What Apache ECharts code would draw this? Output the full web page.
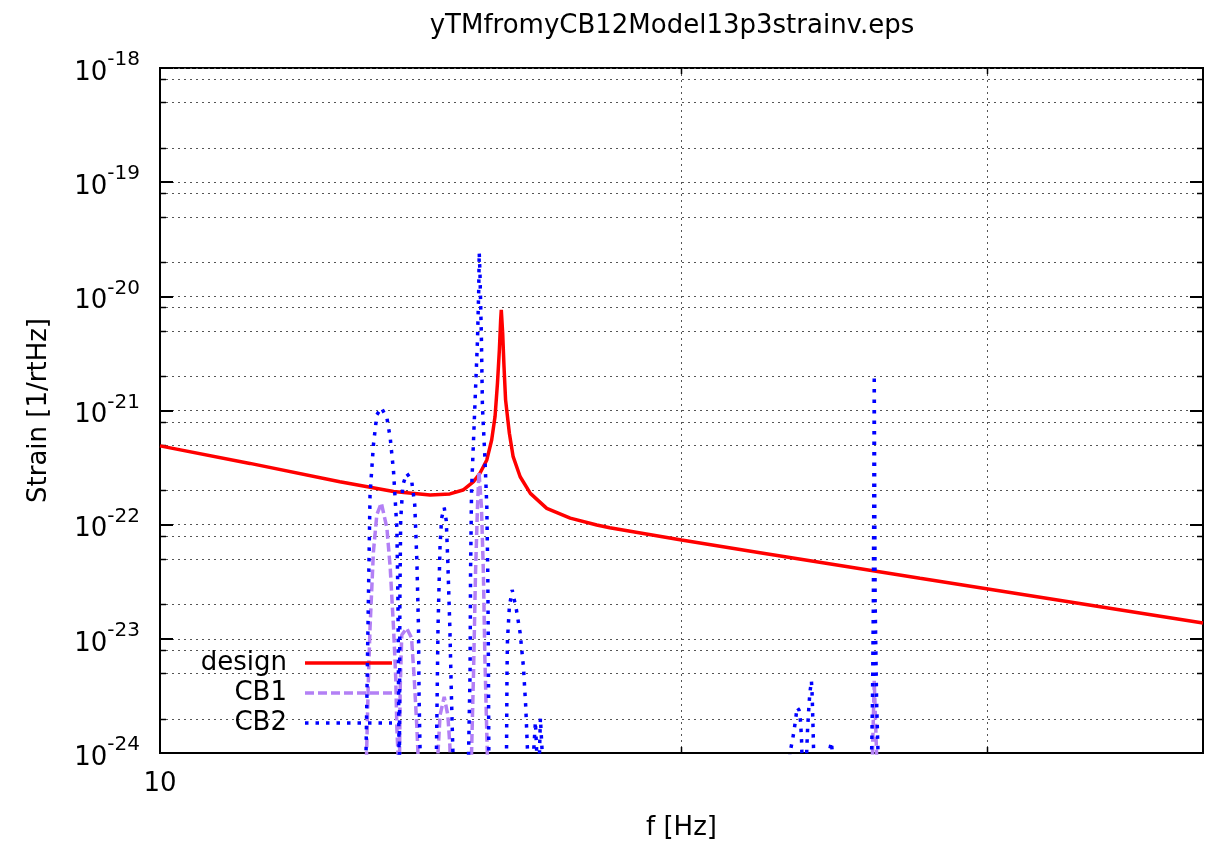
<!DOCTYPE html>
<html>
<head>
<meta charset="utf-8">
<script src="https://cdn.jsdelivr.net/npm/echarts@6/dist/echarts.min.js"></script>
<style>html,body{margin:0;padding:0;background:#fff}#c{width:1220px;height:853px}</style>
</head>
<body>
<div id="c"></div>
<script>
// ---- data ----
const designF = [10.00, 11.27, 12.70, 13.64, 14.32, 14.70, 14.96, 15.17, 15.30, 15.44, 15.54, 15.61, 15.66, 15.70, 15.727, 15.740, 15.769, 15.797, 15.83, 15.91, 15.99, 16.14, 16.36, 16.72, 17.25, 17.87, 18.18, 20.0, 22.20, 27.46, 40.0];
const designV = [4.90e-22, 3.44e-22, 2.38e-22, 1.95e-22, 1.82e-22, 1.86e-22, 2.01e-22, 2.38e-22, 2.82e-22, 3.69e-22, 5.52e-22, 8.84e-22, 1.73e-21, 3.40e-21, 6.22e-21, 7.61e-21, 4.76e-21, 2.42e-21, 1.24e-21, 6.32e-22, 3.94e-22, 2.63e-22, 1.88e-22, 1.39e-22, 1.14e-22, 9.94e-23, 9.41e-23, 7.34e-23, 5.68e-23, 3.39e-23, 1.376e-23];

const cb1F = [13.10, 13.16, 13.19, 13.22, 13.28, 13.34, 13.42, 13.52, 13.58, 13.64, 13.68, 13.70, 13.72, 13.735, 13.75, 13.76, 13.79, 13.88, 13.97, 14.02, 14.07, 14.09, 14.12,
  14.44, 14.47, 14.51, 14.59, 14.66, 14.70, 14.72, 14.75,
  15.10, 15.13, 15.17, 15.21, 15.25, 15.28, 15.33, 15.37, 15.40, 15.45, 15.48,
  25.75, 25.78, 25.84, 25.92, 25.96, 40.0];
const cb1V = [1e-26, 1e-24, 4.18e-24, 1.24e-23, 5.80e-23, 1.22e-22, 1.55e-22, 9.36e-23, 4.17e-23, 1.24e-23, 4.53e-24, 1.65e-24, 1e-24, 4e-25, 1e-24, 3.56e-24, 1.08e-23, 1.24e-23, 1.02e-23, 4.53e-24, 1.65e-24, 1e-24, 1e-26,
  1e-26, 1e-24, 2.15e-24, 3.1e-24, 2.15e-24, 1.17e-24, 5e-25, 1e-26,
  1e-26, 1e-24, 5.01e-24, 3.77e-23, 1.44e-22, 2.92e-22, 1.44e-22, 3.77e-23, 6.97e-24, 1e-24, 1e-26,
  1e-26, 1e-24, 4.29e-24, 1e-24, 1e-26, 1e-26];

const cb2F = [13.10, 13.15, 13.22, 13.28, 13.34, 13.42, 13.52, 13.58, 13.64, 13.70, 13.72, 13.73, 13.74, 13.745,
  13.755, 13.77, 13.81, 13.88, 13.97, 14.03, 14.07, 14.10, 14.11, 14.13, 14.15,
  14.42, 14.44, 14.47, 14.51, 14.54, 14.59, 14.63, 14.66, 14.70, 14.73, 14.76, 14.78,
  15.05, 15.07, 15.10, 15.11, 15.13, 15.17, 15.21, 15.25, 15.275, 15.285, 15.30, 15.33, 15.35, 15.40, 15.44, 15.46, 15.47, 15.48, 15.50,
  15.83, 15.85, 15.86, 15.87, 15.91, 15.97, 16.06, 16.14, 16.21, 16.26, 16.30, 16.33,
  16.41, 16.43, 16.47, 16.50, 16.53, 16.56, 16.58, 16.62, 16.65,
  23.05, 23.10, 23.18, 23.23, 23.28, 23.32, 23.38, 23.43, 23.46, 23.47, 23.53,
  23.60, 23.62, 23.65, 23.69, 23.72, 23.77, 23.79, 23.80, 23.82, 23.84, 23.88,
  24.30, 24.33, 24.41, 24.44, 24.48,
  25.70, 25.75, 25.78, 25.81, 25.84, 25.87, 25.92, 25.97, 26.02, 40.0];
const cb2V = [1e-26, 1e-24, 1.82e-22, 4.99e-22, 9.15e-22, 1.06e-21, 8.61e-22, 5.75e-22, 2.91e-22, 9.36e-23, 2.19e-23, 4.36e-24, 1e-24, 3e-25,
  2.19e-23, 1.10e-22, 2.23e-22, 2.82e-22, 2.47e-22, 1.49e-22, 4.71e-23, 1.24e-23, 3.22e-24, 1e-24, 1e-26,
  1e-26, 1e-24, 1.24e-23, 6.64e-23, 1.14e-22, 1.41e-22, 1.08e-22, 4.71e-23, 1.24e-23, 3.22e-24, 1e-24, 1e-26,
  1e-26, 1e-24, 5.01e-24, 3.77e-23, 2.01e-22, 5.52e-22, 1.52e-21, 4.16e-21, 1.14e-20, 2.42e-20, 1.61e-20, 4.16e-21, 1.08e-21, 3.94e-22, 1.44e-22, 3.77e-23, 9.76e-24, 1.30e-24, 1e-26,
  1e-26, 1e-24, 5.01e-24, 9.76e-24, 1.91e-23, 2.68e-23, 1.79e-23, 1.12e-23, 5.69e-24, 2.54e-24, 1e-24, 1e-26,
  1e-26, 1e-24, 1.88e-24, 1e-24, 1e-26, 1e-24, 2.02e-24, 1e-24, 1e-26,
  1e-26, 1e-24, 1.30e-24, 1.59e-24, 2.01e-24, 2.51e-24, 2.38e-24, 1.88e-24, 1.30e-24, 1e-24, 1e-26,
  1e-26, 1e-24, 1.65e-24, 2.54e-24, 3.35e-24, 4.29e-24, 3.35e-24, 2.74e-24, 1.70e-24, 1e-24, 1e-26,
  1e-26, 1e-24, 1.25e-24, 1e-24, 1e-26,
  1e-26, 1e-24, 2.91e-24, 2.19e-23, 2.05e-21, 2.19e-23, 2.91e-24, 1e-24, 1e-26, 1e-26];

// axis ranges / ticks / grid values
const xMin = 10, xMax = 40, yMin = 1e-24, yMax = 1e-18;
const yTickValues = [1e-24, 1e-23, 1e-22, 1e-21, 1e-20, 1e-19, 1e-18];
const xGridValues = [20, 30];
const yMinorGrid = [2e-24, 5e-24, 8e-24, 2e-23, 5e-23, 8e-23, 2e-22, 5e-22, 8e-22, 2e-21, 5e-21, 8e-21, 2e-20, 5e-20, 8e-20, 2e-19, 5e-19, 8e-19];
const seriesNames = ['design', 'CB1', 'CB2'];
const titleText = 'yTMfromyCB12Model13p3strainv.eps';

const zip = (a, b) => a.map((v, i) => [v, b[i]]);
const FONT = 'DejaVu Sans, Liberation Sans, sans-serif';
const gridStyle = { color: '#555', width: 1, type: [2, 4] };
const dashStyle = { stroke: '#555', lineWidth: 1, lineDash: [2, 4] };
const tickStyle = { stroke: '#000', lineWidth: 1.5 };

function gridH(params, api) {
  const cs = params.coordSys;
  const y = Math.round(api.coord([xMin, api.value(0)])[1]) + 0.5;
  return { type: 'group', silent: true, children: [
    { type: 'line', shape: { x1: cs.x, y1: y, x2: cs.x + cs.width, y2: y }, style: dashStyle },
    { type: 'line', shape: { x1: cs.x, y1: y, x2: cs.x + 6, y2: y }, style: tickStyle },
    { type: 'line', shape: { x1: cs.x + cs.width - 6, y1: y, x2: cs.x + cs.width, y2: y }, style: tickStyle }
  ] };
}
function gridV(params, api) {
  const cs = params.coordSys;
  const x = Math.round(api.coord([api.value(0), yMin])[0]) + 0.5;
  return { type: 'group', silent: true, children: [
    { type: 'line', shape: { x1: x, y1: cs.y, x2: x, y2: cs.y + cs.height }, style: dashStyle },
    { type: 'line', shape: { x1: x, y1: cs.y + cs.height - 6, x2: x, y2: cs.y + cs.height }, style: tickStyle },
    { type: 'line', shape: { x1: x, y1: cs.y, x2: x, y2: cs.y + 6 }, style: tickStyle }
  ] };
}

const chart = echarts.init(document.getElementById('c'));
chart.setOption({
  animation: false,
  backgroundColor: '#fff',
  title: {
    text: titleText, left: 667, top: 8, textAlign: 'center',
    textStyle: { fontFamily: FONT, fontSize: 26, fontWeight: 'normal', color: '#000' }
  },
  grid: { left: 160, right: 17, top: 68, bottom: 100, containLabel: false, outerBoundsMode: 'none',
    show: true, borderColor: '#000', borderWidth: 2, backgroundColor: 'transparent' },
  legend: {
    orient: 'vertical', left: 167, top: 650, align: 'right', padding: 0,
    itemWidth: 87, itemHeight: 14, itemGap: 4,
    itemStyle: { opacity: 0 },
    lineStyle: { width: 3.5 },
    textStyle: { fontFamily: FONT, fontSize: 26, color: '#000', width: 120, lineHeight: 26, padding: [0, 13, 0, 0] },
    data: seriesNames
  },
  xAxis: {
    type: 'log', logBase: 10, min: xMin, max: xMax,
    name: 'f [Hz]', nameLocation: 'middle', nameGap: 62, nameMoveOverlap: false,
    nameTextStyle: { fontFamily: FONT, fontSize: 26, color: '#000' },
    axisLine: { show: true, lineStyle: { color: '#000', width: 2 } },
    axisTick: { show: false },
    splitLine: { show: false },
    axisLabel: {
      margin: 18, fontFamily: FONT, fontSize: 26, color: '#000', showMinLabel: true, hideOverlap: false,
      formatter: v => (Math.abs(v - 10) < 1e-6 ? '10' : '')
    }
  },
  yAxis: [{
    type: 'log', logBase: 10, min: yMin, max: yMax,
    name: 'Strain [1/rtHz]', nameLocation: 'middle', nameGap: 108, nameMoveOverlap: false,
    nameTextStyle: { fontFamily: FONT, fontSize: 26, color: '#000' },
    axisLine: { show: true, lineStyle: { color: '#000', width: 2 } },
    axisTick: { show: true, inside: true, length: 13, lineStyle: { color: '#000', width: 2 } },
    splitLine: { show: true, lineStyle: gridStyle },
    axisLabel: {
      margin: 20, showMinLabel: true, showMaxLabel: true, hideOverlap: false,
      customValues: yTickValues,
      formatter: v => {
        const e = Math.round(Math.log10(v));
        if (Math.abs(v / Math.pow(10, e) - 1) > 1e-6) return '';
        return '{b|10}{s|' + e + '}';
      },
      rich: {
        b: { fontFamily: FONT, fontSize: 26, color: '#000', lineHeight: 36, verticalAlign: 'bottom' },
        s: { fontFamily: FONT, fontSize: 20, color: '#000', lineHeight: 36, verticalAlign: 'top' }
      }
    }
  }, {
    type: 'log', logBase: 10, min: yMin, max: yMax, position: 'right',
    axisLine: { show: true, lineStyle: { color: '#000', width: 2 } },
    axisTick: { show: true, inside: true, length: 13, lineStyle: { color: '#000', width: 2 } },
    axisLabel: { show: false }, splitLine: { show: false }
  }],
  series: [{
    name: 'gridY', type: 'custom', renderItem: gridH, data: yMinorGrid.map(v => [v]),
    encode: { y: 0 }, z: 1, silent: true, tooltip: { show: false }
  }, {
    name: 'gridX', type: 'custom', renderItem: gridV, data: xGridValues.map(v => [v]),
    encode: { x: 0 }, z: 1, silent: true, tooltip: { show: false }
  }, {
    name: seriesNames[0], type: 'line', data: zip(designF, designV), symbol: 'none', z: 2,
    lineStyle: { color: '#ff0000', width: 3.5 }, itemStyle: { color: '#ff0000' }
  }, {
    name: seriesNames[1], type: 'line', data: zip(cb1F, cb1V), symbol: 'none', z: 3,
    lineStyle: { color: '#b380f5', width: 3.5, type: [9, 4] }, itemStyle: { color: '#b380f5' }
  }, {
    name: seriesNames[2], type: 'line', data: zip(cb2F, cb2V), symbol: 'none', z: 4,
    lineStyle: { color: '#0000ff', width: 3.5, type: [3.5, 7] }, itemStyle: { color: '#0000ff' }
  }]
});
</script>
</body>
</html>
